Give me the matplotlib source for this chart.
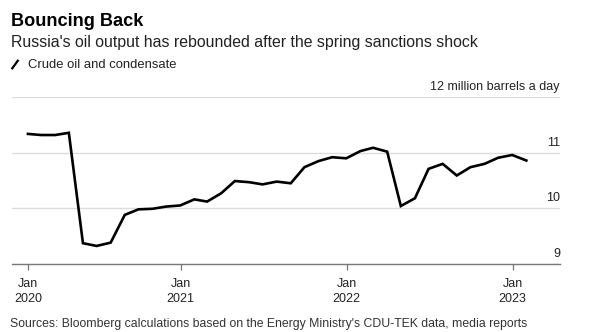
import matplotlib
matplotlib.use("Agg")
import matplotlib.pyplot as plt
import matplotlib.dates as mdates
import matplotlib.transforms as mtransforms
from matplotlib.lines import Line2D
import pandas as pd

plt.rcParams['font.family'] = ['Liberation Sans', 'DejaVu Sans']

# Data: Russia crude oil and condensate output, million barrels a day (monthly, Jan 2020 - Jan 2023)
months = pd.date_range("2020-01-31", "2023-01-31", freq="ME")
output = [11.34, 11.32, 11.32, 11.36, 9.37, 9.32, 9.38, 9.88, 9.98, 9.99, 10.03, 10.05,
          10.16, 10.12, 10.27, 10.49, 10.47, 10.43, 10.48, 10.45, 10.74, 10.85, 10.92, 10.90,
          11.03, 11.09, 11.02, 10.04, 10.18, 10.71, 10.80, 10.59, 10.74, 10.80, 10.91, 10.96,
          10.86]
y_ticks = [9, 10, 11, 12]
y_labels = ["9", "10", "11", "12 million barrels a day"]
x_tick_dates = [pd.Timestamp("2020-01-31"), pd.Timestamp("2021-01-01"),
                pd.Timestamp("2022-01-01"), pd.Timestamp("2023-01-01")]
x_tick_labels = ["Jan\n2020", "Jan\n2021", "Jan\n2022", "Jan\n2023"]

W, H = 601, 332
fig = plt.figure(figsize=(W / 100, H / 100), dpi=100)
fig.patch.set_facecolor("white")

def fx(px):
    return px / W

def fy(py):
    return 1 - py / H

ax = fig.add_axes([fx(12), fy(263.7), fx(560) - fx(12), fy(97.3) - fy(263.7)])
ax.plot(months, output, color="black", lw=1.9, solid_joinstyle="miter", zorder=3)

ax.set_ylim(9, 12)
ax.set_xlim(pd.Timestamp("2019-12-27"), pd.Timestamp("2023-04-15"))

for s in ["top", "right", "left"]:
    ax.spines[s].set_visible(False)
ax.spines["bottom"].set_color("#777777")
ax.spines["bottom"].set_linewidth(1.0)

ax.set_yticks(y_ticks)
ax.yaxis.set_tick_params(length=0, labelleft=False)
ax.grid(axis="y", color="#dcdcdc", lw=1.0, zorder=0)
ax.set_axisbelow(True)

trans = mtransforms.blended_transform_factory(ax.transAxes, ax.transData)
offset = mtransforms.ScaledTranslation(0, 4 / 100, fig.dpi_scale_trans)
for v, lab in zip(y_ticks, y_labels):
    ax.text(1.0, v, lab, transform=trans + offset, ha="right", va="bottom",
            fontsize=9.0, color="#222222")

ax.set_xticks(x_tick_dates)
ax.set_xticklabels(x_tick_labels, fontsize=9.0, color="#222222", linespacing=1.3)
ax.tick_params(axis="x", length=4, width=0.9, color="#777777", pad=6.5)

# Header texts
fig.text(fx(11), fy(26), "Bouncing Back", fontsize=13.1, fontweight="bold",
         color="black", va="baseline", ha="left")
fig.text(fx(11), fy(47), "Russia's oil output has rebounded after the spring sanctions shock",
         fontsize=11.4, color="#222222", va="baseline", ha="left")
fig.add_artist(Line2D([fx(12.3), fx(17.8)], [fy(68.3), fy(60.7)], color="black", lw=1.6,
                      transform=fig.transFigure))
fig.text(fx(28), fy(68.5), "Crude oil and condensate", fontsize=9.4, color="#222222",
         va="baseline", ha="left")
fig.text(fx(10), fy(326.5), "Sources: Bloomberg calculations based on the Energy Ministry's CDU-TEK data, media reports",
         fontsize=8.8, color="#333333", va="baseline", ha="left")

fig.savefig("out.png", dpi=100, facecolor="white")
